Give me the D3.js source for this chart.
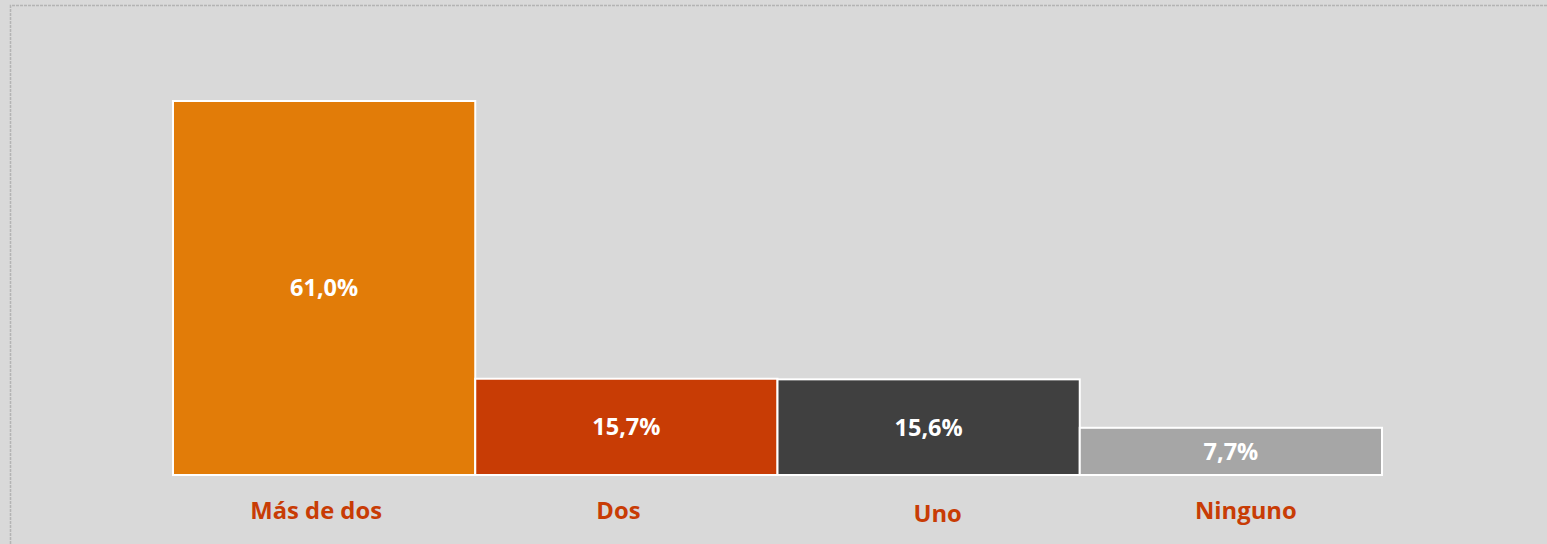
<!DOCTYPE html>
<html>
<head>
<meta charset="utf-8">
<script src="https://cdn.jsdelivr.net/npm/d3@7/dist/d3.min.js"></script>
<style>
  html, body { margin: 0; padding: 0; background: #d9d9d9; }
  svg { display: block; }
</style>
</head>
<body>
<svg id="chart" width="1547" height="544"></svg>
<script>
// Share of respondents by count
const categories = ["Más de dos", "Dos", "Uno", "Ninguno"];
const values = [61.0, 15.7, 15.6, 7.7];
const valueLabels = ["61,0%", "15,7%", "15,6%", "7,7%"];
const colors = ["#e27c08", "#c83c05", "#404040", "#a6a6a6"];
// small nudges of the category labels under each bar
const labelDx = [-8, -8, 9, 15];
const labelDy = [0, 0, 3, 0];

const W = 1547, H = 544;
const svg = d3.select("#chart");

svg.append("rect").attr("width", W).attr("height", H).attr("fill", "#d9d9d9");

// dotted frame around the plot area
svg.append("path")
  .attr("d", `M10.5,${H} V5.5 H${W}`)
  .attr("fill", "none")
  .attr("stroke", "#b4b4b4")
  .attr("stroke-width", 1.5)
  .attr("stroke-dasharray", "3,1");

const x = d3.scaleBand().domain(categories).range([173, 1382]).paddingInner(0).paddingOuter(0);
const y = d3.scaleLinear().domain([0, 61.0]).range([475, 101]);

const g = svg.append("g");

g.selectAll("rect.bar")
  .data(categories)
  .join("rect")
  .attr("class", "bar")
  .attr("x", d => x(d))
  .attr("width", x.bandwidth())
  .attr("y", (d, i) => y(values[i]))
  .attr("height", (d, i) => y(0) - y(values[i]))
  .attr("fill", (d, i) => colors[i])
  .attr("stroke", "#ffffff")
  .attr("stroke-width", 2);

const font = "'Open Sans', 'Noto Sans', sans-serif";

g.selectAll("text.val")
  .data(categories)
  .join("text")
  .attr("class", "val")
  .attr("x", d => x(d) + x.bandwidth() / 2)
  .attr("y", (d, i) => (y(values[i]) + y(0)) / 2)
  .attr("dy", "0.36em")
  .attr("text-anchor", "middle")
  .attr("fill", "#ffffff")
  .attr("font-family", font)
  .attr("font-weight", 700)
  .attr("font-size", 23.5)
  .text((d, i) => valueLabels[i]);

g.selectAll("text.cat")
  .data(categories)
  .join("text")
  .attr("class", "cat")
  .attr("x", (d, i) => x(d) + x.bandwidth() / 2 + labelDx[i])
  .attr("y", (d, i) => 510 + labelDy[i])
  .attr("dy", "0.36em")
  .attr("text-anchor", "middle")
  .attr("fill", "#c83c05")
  .attr("font-family", font)
  .attr("font-weight", 700)
  .attr("font-size", 23.8)
  .text(d => d);
</script>
</body>
</html>
